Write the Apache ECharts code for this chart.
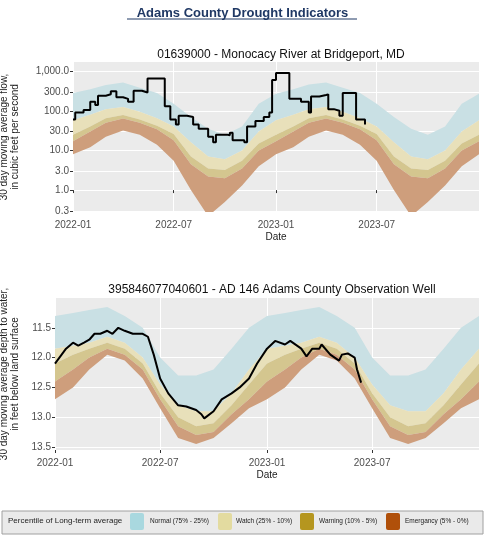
<!DOCTYPE html>
<html><head><meta charset="utf-8">
<script src="https://cdn.jsdelivr.net/npm/echarts@6/dist/echarts.min.js"></script>
<style>html,body{margin:0;padding:0;background:#fff}#c{width:485px;height:539px}</style>
</head><body><div id="c"></div>
<script>
const bandDates = ['2022-01-01','2022-02-01','2022-03-01','2022-04-01','2022-05-01','2022-06-01','2022-07-01','2022-08-01','2022-09-01','2022-10-01','2022-11-01','2022-12-01',
'2023-01-01','2023-02-01','2023-03-01','2023-04-01','2023-05-01','2023-06-01','2023-07-01','2023-08-01','2023-09-01','2023-10-01','2023-11-01','2023-12-01','2024-01-01'];
// Flow bands (cfs)
const flowP75 = [280,350,450,520,380,280,150,70,35,25,40,150, 270,350,460,520,380,280,150,70,35,25,40,150,270];
const flowP25 = [58,80,110,125,95,65,40,16,7,6,10,30, 58,80,110,125,95,65,40,16,7,6,10,30,58];
const flowP10 = [25,40,65,78,60,42,26,7,3.5,3.2,5.5,15, 25,40,65,78,60,42,26,7,3.5,3.2,5.5,15,25];
const flowP5  = [17,30,50,64,50,34,18,4.5,2.2,2.0,3.5,10, 17,30,50,64,50,34,18,4.5,2.2,2.0,3.5,10,17];
const flowP0  = [8,12,22,32,25,14,5.5,1.0,0.22,0.5,1.3,4, 8,12,22,32,25,14,5.5,1.0,0.22,0.5,1.3,4,8];
const flowDates = ['2022-01-01','2022-01-05','2022-01-20','2022-02-01','2022-02-10','2022-02-15','2022-03-01','2022-03-10','2022-03-20','2022-04-01','2022-04-10','2022-04-20','2022-05-05','2022-05-15','2022-06-10','2022-06-15','2022-06-25','2022-07-05','2022-07-10','2022-07-25','2022-08-05','2022-08-15','2022-09-01','2022-09-10','2022-09-15','2022-10-05','2022-10-10','2022-10-15','2022-11-05','2022-11-10','2022-11-25','2022-12-10','2022-12-20','2022-12-25','2023-01-01','2023-01-15','2023-01-25','2023-02-15','2023-03-01','2023-03-05','2023-03-20','2023-04-01','2023-04-05','2023-04-15','2023-04-25','2023-05-01','2023-05-20','2023-05-25','2023-06-10'];
const flowVals = [60,90,105,170,140,240,260,310,220,200,170,320,290,650,650,130,60,45,75,70,45,35,22,16,25,24,28,18,16,40,55,70,90,600,900,900,200,170,90,230,250,260,110,100,75,280,280,60,45];
// Well bands (ft below surface)
const wellP75 = [11.3,11.25,11.2,11.15,11.3,11.5,12.0,12.3,12.3,12.2,11.85,11.5, 11.3,11.25,11.2,11.15,11.3,11.5,12.0,12.3,12.3,12.2,11.85,11.5,11.3];
const wellP25 = [11.85,11.8,11.75,11.65,11.75,12.0,12.45,12.8,12.9,12.9,12.6,12.2, 11.85,11.8,11.75,11.65,11.75,12.0,12.45,12.8,12.9,12.9,12.6,12.2,11.85];
const wellP10 = [12.1,11.95,11.85,11.75,11.85,12.1,12.6,13.0,13.15,13.1,12.8,12.45, 12.1,11.95,11.85,11.75,11.85,12.1,12.6,13.0,13.15,13.1,12.8,12.45,12.1];
const wellP5  = [12.4,12.2,12.0,11.85,11.95,12.2,12.7,13.15,13.3,13.25,12.95,12.7, 12.4,12.2,12.0,11.85,11.95,12.2,12.7,13.15,13.3,13.25,12.95,12.7,12.4];
const wellP0  = [12.7,12.5,12.2,11.95,12.05,12.35,12.85,13.35,13.45,13.35,13.1,12.85, 12.7,12.5,12.2,11.95,12.05,12.35,12.85,13.35,13.45,13.35,13.1,12.85,12.7];
const wellDates = ['2022-01-01','2022-01-20','2022-02-01','2022-02-10','2022-02-20','2022-03-01','2022-03-10','2022-03-20','2022-04-01','2022-04-10','2022-04-20','2022-05-01','2022-05-15','2022-06-01','2022-06-10','2022-06-20','2022-07-01','2022-07-15','2022-08-01','2022-08-15','2022-09-01','2022-09-10','2022-09-15','2022-10-01','2022-10-15','2022-11-01','2022-11-15','2022-12-01','2022-12-15','2023-01-01','2023-01-15','2023-02-01','2023-02-10','2023-03-01','2023-03-10','2023-03-20','2023-04-01','2023-04-05','2023-04-20','2023-05-05','2023-05-10','2023-05-20','2023-06-01','2023-06-05','2023-06-12'];
const wellVals = [12.1,11.85,11.75,11.8,11.75,11.7,11.6,11.6,11.55,11.6,11.5,11.55,11.6,11.6,11.65,11.95,12.35,12.6,12.8,12.82,12.88,12.95,13.02,12.9,12.7,12.6,12.5,12.35,12.1,11.85,11.72,11.78,11.72,11.85,11.98,11.85,11.85,11.78,11.95,12.05,11.95,11.93,12.0,12.2,12.42];
const xTicks = ['2022-01-01','2022-07-01','2023-01-01','2023-07-01'];
const flowTicks = [1000,300,100,30,10,3,1,0.3];
const wellTicks = [11.5,12.0,12.5,13.0,13.5];

const T = d => Date.parse(d+'T00:00:00Z');
const L = v => Math.log10(v);
const colors = ['#C9E0E4','#E8E0BA','#D4C68F','#CE9E7C'];
const txt = '#4D4D4D';
function xAxis(gi){
  return {type:'value',gridIndex:gi,min:T('2022-01-01'),max:T('2024-01-01'),
    axisLine:{show:false},axisTick:{show:true,customValues:xTicks.map(T),length:3,lineStyle:{color:'#333'}},
    axisLabel:{customValues:xTicks.map(T),color:txt,fontSize:10,fontFamily:'Liberation Sans',
      formatter:v=>{const d=new Date(v);return d.getUTCFullYear()+'-'+String(d.getUTCMonth()+1).padStart(2,'0');}},
    splitLine:{show:true,lineStyle:{color:'#fff',width:1}},
    name:'Date',nameLocation:'middle',nameGap:20,nameTextStyle:{color:'#222',fontSize:10,fontFamily:'Liberation Sans'}};
}
const series = [];
function bands(gi,tr,bounds){
  // bounds: [{up, lo, color}]
  bounds.forEach(b=>{
    series.push({type:'custom',xAxisIndex:gi,yAxisIndex:gi,silent:true,clip:true,
      data:[0],
      renderItem:(params,api)=>{
        const top = bandDates.map((d,i)=>api.coord([T(d),tr(b.up[i])]));
        const bot = bandDates.map((d,i)=>api.coord([T(d),tr(b.lo[i])])).reverse();
        return {type:'polygon',shape:{points:top.concat(bot),smooth:0},style:{fill:b.color}};
      }});
  });
}
bands(0,L,[{up:flowP75,lo:flowP25,color:colors[0]},{up:flowP25,lo:flowP10,color:colors[1]},
           {up:flowP10,lo:flowP5,color:colors[2]},{up:flowP5,lo:flowP0,color:colors[3]}]);
bands(1,x=>x,[{up:wellP75,lo:wellP25,color:colors[0]},{up:wellP25,lo:wellP10,color:colors[1]},
           {up:wellP10,lo:wellP5,color:colors[2]},{up:wellP5,lo:wellP0,color:colors[3]}]);
series.push({type:'line',xAxisIndex:0,yAxisIndex:0,symbol:'none',lineStyle:{color:'#000',width:2},step:'end',
  data:flowDates.map((d,i)=>[T(d),L(flowVals[i])])});
series.push({type:'line',xAxisIndex:1,yAxisIndex:1,symbol:'none',lineStyle:{color:'#000',width:2},
  data:wellDates.map((d,i)=>[T(d),wellVals[i]])});

const chart = echarts.init(document.getElementById('c'),null,{renderer:'canvas'});
chart.setOption({
  animation:false,backgroundColor:'#fff',
  title:[
    {text:'Adams County Drought Indicators',left:'center',top:2,textStyle:{color:'#1F3864',fontSize:13,fontWeight:'bold',fontFamily:'Liberation Sans'}},
    {text:'01639000 - Monocacy River at Bridgeport, MD',left:276,textAlign:'center',top:44,textStyle:{color:'#111',fontSize:12,fontWeight:'normal',fontFamily:'Liberation Sans'}},
    {text:'395846077040601 - AD 146 Adams County Observation Well',left:267,textAlign:'center',top:279,textStyle:{color:'#111',fontSize:12,fontWeight:'normal',fontFamily:'Liberation Sans'}}
  ],
  grid:[{left:73,top:62,width:406,height:150,backgroundColor:'#EBEBEB',show:true,borderWidth:0,outerBoundsMode:'none',containLabel:false},
        {left:55,top:298,width:424,height:152,backgroundColor:'#EBEBEB',show:true,borderWidth:0,outerBoundsMode:'none',containLabel:false}],
  xAxis:[xAxis(0),xAxis(1)],
  yAxis:[
    {type:'value',gridIndex:0,min:L(0.28),max:L(1700),
     axisLine:{show:false},axisTick:{show:true,customValues:flowTicks.map(L),length:3,lineStyle:{color:'#333'}},
     axisLabel:{customValues:flowTicks.map(L),color:txt,fontSize:10,fontFamily:'Liberation Sans',margin:4,
       formatter:v=>Math.pow(10,v).toLocaleString('en-US',{minimumFractionDigits:1,maximumFractionDigits:1})},
     splitLine:{show:true,lineStyle:{color:'#fff'}},
     name:'30 day moving average flow,\nin cubic feet per second',nameLocation:'middle',nameGap:52,
     nameTextStyle:{color:'#222',fontSize:10,fontFamily:'Liberation Sans',lineHeight:11}},
    {type:'value',gridIndex:1,min:11.0,max:13.55,inverse:true,
     axisLine:{show:false},axisTick:{show:true,customValues:wellTicks,length:3,lineStyle:{color:'#333'}},
     axisLabel:{customValues:wellTicks,color:txt,fontSize:10,fontFamily:'Liberation Sans',margin:4,formatter:v=>v.toFixed(1)},
     splitLine:{show:true,lineStyle:{color:'#fff'}},
     name:'30 day moving average depth to water,\nin feet below land surface',nameLocation:'middle',nameGap:33,
     nameTextStyle:{color:'#222',fontSize:10,fontFamily:'Liberation Sans',lineHeight:11}}
  ],
  series,
  graphic:[
    {type:'line',shape:{x1:127,y1:19,x2:357,y2:19},style:{stroke:'#1F3864',lineWidth:1}},
    {type:'rect',shape:{x:2,y:511,width:481,height:23},style:{fill:'#EAEAEA',stroke:'#A0A0A0',lineWidth:1}},
    {type:'text',x:8,y:517,style:{text:'Percentile of Long-term average',fontSize:8,fill:'#222',fontFamily:'Liberation Sans'}},
    {type:'rect',shape:{x:130,y:513,width:14,height:17,r:2},style:{fill:'#A9D8DF'}},
    {type:'text',x:150,y:518,style:{text:'Normal (75% - 25%)',fontSize:6.5,fill:'#222',fontFamily:'Liberation Sans'}},
    {type:'rect',shape:{x:218,y:513,width:14,height:17,r:2},style:{fill:'#E3DBA0'}},
    {type:'text',x:236,y:518,style:{text:'Watch (25% - 10%)',fontSize:6.5,fill:'#222',fontFamily:'Liberation Sans'}},
    {type:'rect',shape:{x:300,y:513,width:14,height:17,r:2},style:{fill:'#B5961F'}},
    {type:'text',x:319,y:518,style:{text:'Warning (10% - 5%)',fontSize:6.5,fill:'#222',fontFamily:'Liberation Sans'}},
    {type:'rect',shape:{x:386,y:513,width:14,height:17,r:2},style:{fill:'#B0500A'}},
    {type:'text',x:405,y:518,style:{text:'Emergancy (5% - 0%)',fontSize:6.5,fill:'#222',fontFamily:'Liberation Sans'}}
  ]
});
</script></body></html>
